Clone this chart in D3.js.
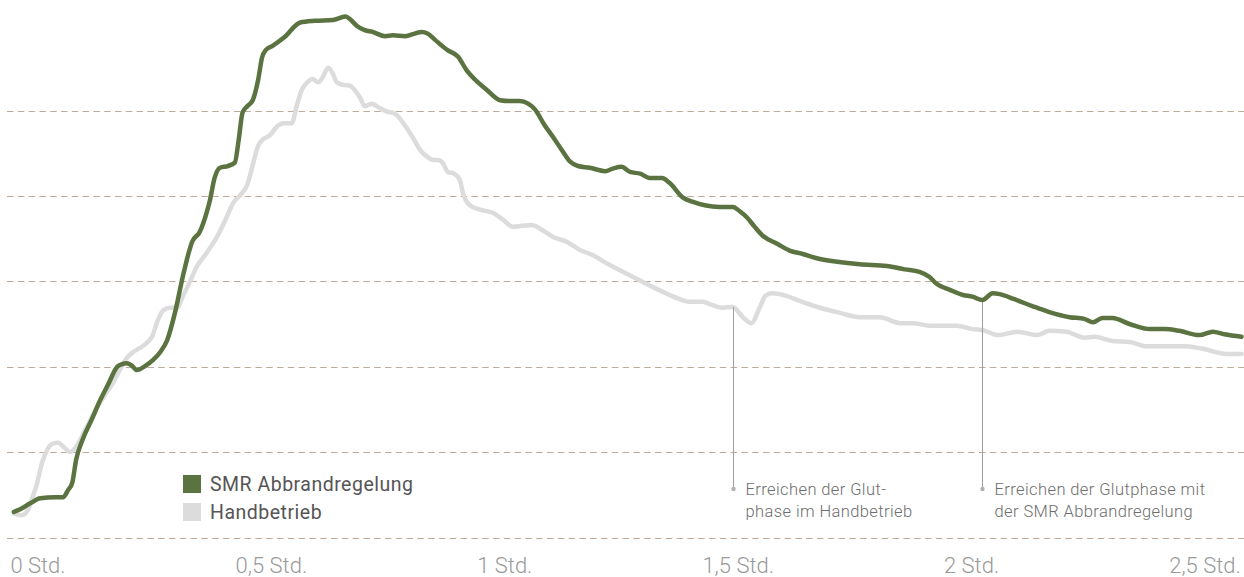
<!DOCTYPE html>
<html>
<head>
<meta charset="utf-8">
<script src="https://cdn.jsdelivr.net/npm/d3@7"></script>
<style>
  body { margin: 0; background: #fff; }
  svg { display: block; font-family: Roboto, "DejaVu Sans", sans-serif; }
</style>
</head>
<body>
<svg id="chart"></svg>
<script>
var width = 1244;
var height = 577;

// time in minutes, value in grid units (grid lines every 100)
var smrTime = [-3.1, -2.3, -1.0, 0.3, 2.2, 3.2, 3.9, 4.4, 4.9, 5.7, 6.9, 8.0, 9.0, 10.2, 10.8, 11.4, 12.1, 12.7, 13.8, 14.8, 15.7, 16.6, 17.6, 18.6, 19.3, 19.8, 20.8, 21.6, 22.1, 22.7, 23.4, 24.4, 25.3, 25.8, 26.3, 26.9, 27.6, 28.3, 28.8, 29.3, 30.2, 31.7, 33.7, 35.6, 37.9, 39.5, 40.1, 41.0, 42.0, 43.0, 44.6, 45.6, 47.2, 48.4, 49.3, 50.1, 51.0, 52.6, 54.0, 55.1, 56.2, 57.7, 59.4, 60.6, 61.9, 63.0, 63.9, 65.1, 66.2, 67.3, 68.4, 69.4, 70.9, 72.9, 73.9, 75.0, 76.1, 77.4, 78.6, 80.2, 81.2, 82.9, 84.2, 85.7, 87.6, 89.3, 90.2, 91.1, 92.1, 93.2, 95.0, 96.6, 98.3, 100.1, 102.7, 105.6, 109.1, 111.4, 113.3, 114.6, 115.5, 117.2, 118.9, 120.1, 121.4, 122.7, 123.6, 125.5, 127.8, 130.0, 132.6, 134.5, 135.6, 136.8, 138.1, 140.3, 142.9, 144.8, 146.7, 149.3, 151.0, 152.5, 154.7];
var smrValue = [30, 33, 40, 46, 47, 47, 56, 64, 91, 114, 138, 161, 179, 200, 203, 204, 201, 196, 201, 208, 217, 231, 263, 305, 331, 346, 358, 378, 395, 421, 433, 435, 439, 466, 498, 505, 512, 536, 562, 571, 576, 586, 603, 605, 606, 610, 607, 599, 594, 592, 587, 588, 587, 590, 592, 590, 583, 571, 563, 547, 536, 524, 512, 511, 511, 508, 501, 483, 469, 454, 440, 435, 433, 429, 432, 434, 428, 426, 421, 421, 415, 398, 393, 389, 387, 387, 382, 375, 364, 353, 344, 336, 332, 327, 323, 320, 318, 314, 311, 305, 297, 290, 284, 282, 278, 286, 285, 279, 271, 264, 258, 256, 252, 257, 257, 250, 244, 244, 242, 237, 241, 238, 235];

var handTime = [-3.1, -2.1, -1.3, -0.6, -0.1, 0.5, 1.2, 1.9, 2.6, 3.3, 4.1, 4.8, 5.4, 6.4, 7.6, 8.6, 9.5, 10.5, 11.4, 12.2, 13.1, 14.0, 14.7, 15.3, 16.1, 17.0, 17.9, 18.6, 19.5, 20.4, 21.5, 23.0, 24.0, 25.1, 26.0, 26.9, 27.6, 28.3, 28.9, 29.8, 30.7, 31.5, 32.6, 33.3, 33.9, 34.6, 35.3, 36.0, 36.6, 37.3, 37.9, 38.4, 39.2, 40.1, 40.7, 41.4, 42.0, 42.9, 43.7, 44.8, 45.9, 47.2, 48.2, 49.1, 50.0, 50.8, 51.4, 52.0, 52.7, 53.5, 54.2, 54.7, 55.5, 56.8, 58.5, 59.8, 61.0, 62.2, 63.5, 64.8, 66.2, 68.0, 69.6, 71.2, 73.5, 76.5, 79.3, 81.2, 82.5, 83.8, 85.4, 86.7, 88.0, 89.3, 90.6, 91.7, 92.8, 93.5, 94.3, 96.2, 97.9, 100.5, 103.1, 105.6, 108.2, 110.8, 112.4, 114.6, 118.1, 120.1, 121.4, 123.4, 125.9, 128.4, 130.0, 132.2, 134.5, 135.8, 138.1, 140.3, 142.5, 145.1, 147.6, 149.7, 152.8, 154.7];
var handValue = [28, 26, 32, 50, 64, 87, 103, 110, 111, 106, 100, 105, 114, 132, 153, 167, 179, 196, 210, 217, 222, 228, 236, 252, 266, 269, 269, 282, 299, 317, 331, 352, 370, 392, 401, 413, 436, 459, 466, 471, 481, 485, 485, 507, 524, 533, 537, 533, 539, 550, 543, 533, 530, 529, 524, 515, 505, 508, 504, 499, 496, 482, 468, 454, 446, 442, 442, 439, 428, 426, 419, 401, 389, 384, 380, 372, 364, 365, 366, 360, 352, 346, 337, 331, 319, 305, 292, 284, 279, 276, 276, 272, 269, 270, 258, 251, 270, 283, 286, 283, 277, 269, 263, 258, 258, 251, 251, 248, 248, 244, 243, 237, 241, 237, 242, 241, 234, 235, 230, 229, 224, 224, 224, 221, 215, 215];

var gridValues = [0, 100, 200, 300, 400, 500];
var tickTimes = [0, 30, 60, 90, 120, 150];
var tickLabels = ["0 Std.", "0,5 Std.", "1 Std.", "1,5 Std.", "2 Std.", "2,5 Std."];

var legendNames = ["SMR Abbrandregelung", "Handbetrieb"];
var colors = ["#5b7340", "#dcdcdc"];

var annoTimes = [89.3, 121.4];
var annoSeries = ["hand", "smr"];
var annoLines = [["Erreichen der Glut-", "phase im Handbetrieb"], ["Erreichen der Glutphase mit", "der SMR Abbrandregelung"]];

var smr = smrTime.map(function (t, i) { return { t: t, v: smrValue[i] }; });
var hand = handTime.map(function (t, i) { return { t: t, v: handValue[i] }; });

var x = d3.scaleLinear().domain([0, 150]).range([38, 1205]);
var y = d3.scaleLinear().domain([0, 500]).range([537.5, 110.5]);

var svg = d3.select("#chart")
  .attr("width", width)
  .attr("height", height);

// dashed grid lines
svg.append("g")
  .selectAll("line")
  .data(gridValues)
  .join("line")
  .attr("x1", 7)
  .attr("x2", width)
  .attr("y1", function (d) { return Math.round(y(d)) + 0.5; })
  .attr("y2", function (d) { return Math.round(y(d)) + 0.5; })
  .attr("stroke", "#bcab9b")
  .attr("stroke-width", 1)
  .attr("stroke-dasharray", "6.5,4.3");

// x axis labels
svg.append("g")
  .selectAll("text")
  .data(tickTimes)
  .join("text")
  .attr("x", function (d) { return x(d); })
  .attr("y", 573)
  .attr("text-anchor", "middle")
  .attr("font-size", "22px")
  .attr("font-weight", 300)
  .attr("fill", "#9a9a9a")
  .text(function (d, i) { return tickLabels[i]; });

var line = d3.line()
  .x(function (d) { return x(d.t); })
  .y(function (d) { return y(d.v); })
  .curve(d3.curveMonotoneX);

svg.append("path")
  .datum(hand)
  .attr("d", line)
  .attr("fill", "none")
  .attr("stroke", colors[1])
  .attr("stroke-width", 4.5)
  .attr("stroke-linejoin", "round")
  .attr("stroke-linecap", "round");

// annotations
function valueAt(series, t) {
  var i = d3.bisector(function (d) { return d.t; }).left(series, t);
  if (i <= 0) return series[0].v;
  var a = series[i - 1], b = series[i];
  return a.v + (b.v - a.v) * (t - a.t) / (b.t - a.t);
}

annoTimes.forEach(function (t, i) {
  var series = annoSeries[i] === "hand" ? hand : smr;
  var ax = Math.round(x(t)) + 0.5;
  var g = svg.append("g");
  g.append("line")
    .attr("x1", ax)
    .attr("x2", ax)
    .attr("y1", y(valueAt(series, t)))
    .attr("y2", 489)
    .attr("stroke", "#9d9d9d")
    .attr("stroke-width", 1);
  g.append("circle")
    .attr("cx", ax)
    .attr("cy", 489)
    .attr("r", 2.2)
    .attr("fill", "#b0b0b0");
  g.append("text")
    .attr("x", ax + 12)
    .attr("y", 495)
    .attr("font-size", "16.5px")
    .attr("font-weight", 300)
    .attr("letter-spacing", "0.4px")
    .attr("fill", "#6e6e6e")
    .selectAll("tspan")
    .data(annoLines[i])
    .join("tspan")
    .attr("x", ax + 12)
    .attr("dy", function (d, j) { return j === 0 ? 0 : 22; })
    .text(function (d) { return d; });
});

svg.append("path")
  .datum(smr)
  .attr("d", line)
  .attr("fill", "none")
  .attr("stroke", colors[0])
  .attr("stroke-width", 4.5)
  .attr("stroke-linejoin", "round")
  .attr("stroke-linecap", "round");

// legend
var legend = svg.append("g")
  .selectAll("g")
  .data(legendNames)
  .join("g")
  .attr("transform", function (d, i) { return "translate(183," + (475 + i * 28) + ")"; });

legend.append("rect")
  .attr("width", 18)
  .attr("height", 18)
  .attr("fill", function (d, i) { return colors[i]; });

legend.append("text")
  .attr("x", 27)
  .attr("y", 16)
  .attr("font-size", "19.5px")
  .attr("letter-spacing", "0.5px")
  .attr("fill", "#555")
  .text(function (d) { return d; });
</script>
</body>
</html>
